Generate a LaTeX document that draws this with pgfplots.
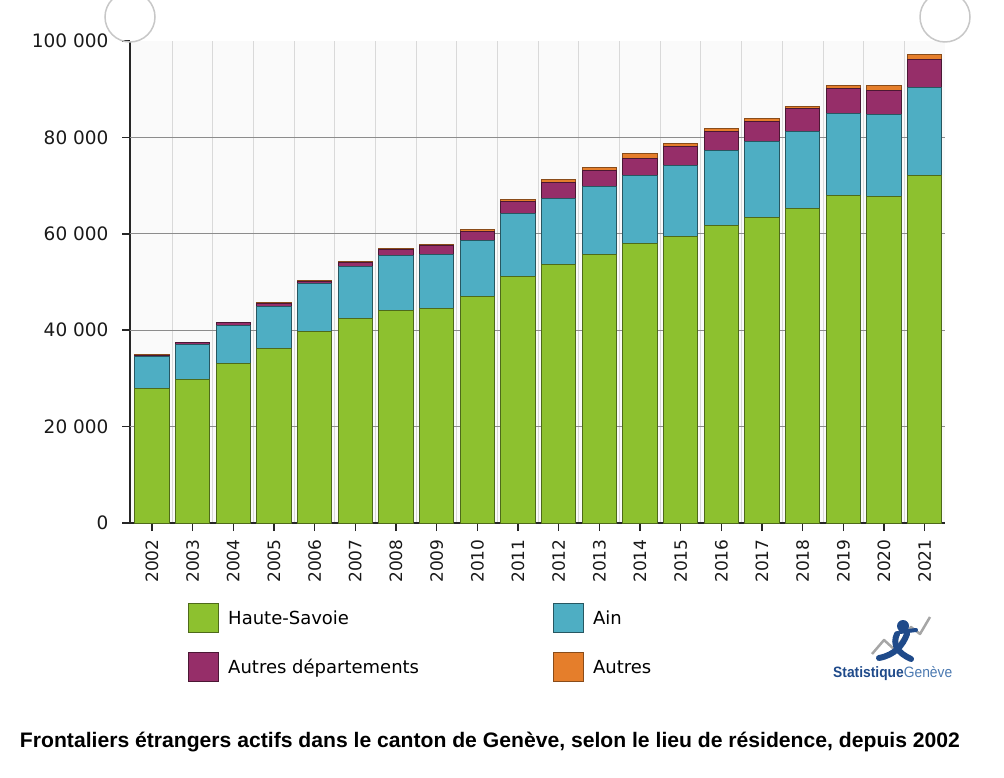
\documentclass[border=0pt]{standalone}
\usepackage{fontspec}
\setmainfont{DejaVu Sans}
\newfontfamily\titlefont{Liberation Sans}
\usepackage{graphicx}
\usepackage{pgfplots}
\pgfplotsset{compat=1.18}
\definecolor{hs}{HTML}{8DC12F}
\definecolor{ain}{HTML}{4EAEC3}
\definecolor{dep}{HTML}{962E69}
\definecolor{aut}{HTML}{E57E2B}
\definecolor{logoblue}{HTML}{1F4A8A}
\definecolor{logolight}{HTML}{4A78B0}
\pgfplotstableread{
idx hs ain dep aut
0 27900 6600 350 150
1 29800 7300 300 100
2 33000 8000 500 200
3 36100 8900 500 200
4 39800 9800 500 200
5 42400 10800 800 200
6 44100 11300 1300 300
7 44400 11300 1800 300
8 46900 11700 1900 400
9 51100 13200 2400 500
10 53700 13700 3200 600
11 55700 14200 3200 700
12 57900 14100 3700 900
13 59500 14600 4000 600
14 61800 15500 3900 600
15 63400 15700 4200 700
16 65300 16000 4600 600
17 68000 17000 5100 700
18 67700 17000 5000 1100
19 72000 18400 5700 1200
}\data
\begin{document}
\begin{tikzpicture}[x=1pt,y=1pt]
\useasboundingbox (0,0) rectangle (1004,777);
\begin{axis}[
  at={(130pt,254pt)}, anchor=south west, scale only axis,
  width=815pt, height=482pt,
  xmin=-0.54, xmax=19.5, ymin=0, ymax=100000,
  ybar stacked, bar width=34.4pt,
  axis x line*=bottom, axis y line*=left,
  axis line style={-, line width=1.8pt, black!85},
  xtick={0,...,19},
  xticklabels={2002,2003,2004,2005,2006,2007,2008,2009,2010,2011,2012,2013,2014,2015,2016,2017,2018,2019,2020,2021},
  x tick label style={rotate=90, anchor=east, font=\fontsize{17}{17}\selectfont, text=black!90},
  xticklabel shift=5pt,
  ytick={0,20000,40000,60000,80000,100000},
  yticklabels={0,20 000,40 000,60 000,80 000,100 000},
  y tick label style={font=\fontsize{18.5}{18.5}\selectfont, text=black!90},
  yticklabel shift=10pt,
  scaled y ticks=false,
  tick align=outside, major tick length=8pt,
  tick style={line width=1.5pt, black!85},
  minor xtick={0.5,1.5,...,18.5}, xminorgrids, minor tick length=0pt,
  minor grid style={black!15, line width=1pt},
  extra y ticks={20000,40000,60000,80000}, extra y tick labels={},
  extra y tick style={ymajorgrids=true, major grid style={black!45, line width=1pt}},
  axis background/.style={fill=black!2},
  legend columns=2,
  legend cell align=left,
  legend style={at={(axis description cs:0.0712,-0.166)}, anchor=north west,
    draw=none, fill=none, inner sep=0pt, row sep=19pt,
    font=\fontsize{18}{18}\selectfont,
    nodes={inner sep=0pt, anchor=west},
    /tikz/every odd column/.append style={column sep=9pt},
    /tikz/every even column/.append style={column sep=134pt}},
  legend image code/.code={\draw[#1, line width=1pt] (0pt,-14.5pt) rectangle (30pt,14.5pt);},
]
\addplot[fill=hs, draw=hs!55!black, line width=1pt] table[x=idx, y=hs] {\data};
\addplot[fill=ain, draw=ain!50!black, line width=1pt] table[x=idx, y=ain] {\data};
\addplot[fill=dep, draw=dep!50!black, line width=1pt] table[x=idx, y=dep] {\data};
\addplot[fill=aut, draw=aut!60!black, line width=1pt] table[x=idx, y=aut] {\data};
\legend{Haute-Savoie, Ain, Autres départements, Autres}
\end{axis}
% decorative corner circles
\draw[black!22, line width=1.5pt] (130,760) circle (25);
\draw[black!22, line width=1.5pt] (945,760) circle (25);
% logo
\draw[black!35, line width=2.5pt, line join=round] (872,123) -- (884,137) -- (895,127) -- (911,150) -- (920,143) -- (930,160);
\fill[logoblue] (903,151) circle (6);
\draw[logoblue, line width=6pt, line cap=round] (907,143) .. controls (903,132) and (895,122) .. (879,119);
\draw[logoblue, line width=6pt, line cap=round] (897,143) .. controls (892,132) and (898,124) .. (911,118);
\draw[logoblue, line width=4pt, line cap=round] (900,145) -- (916,147);
\node[anchor=base west, inner sep=0pt] at (833,100) {\resizebox{119pt}{\height}{\titlefont\fontsize{15}{15}\selectfont\textbf{\color{logoblue}Statistique}{\color{logolight}Genève}}};
% title
\node[anchor=base, inner sep=0pt] at (490,30) {\resizebox{940pt}{\height}{\titlefont\bfseries\fontsize{21}{21}\selectfont Frontaliers étrangers actifs dans le canton de Genève, selon le lieu de résidence, depuis 2002}};
\end{tikzpicture}
\end{document}
